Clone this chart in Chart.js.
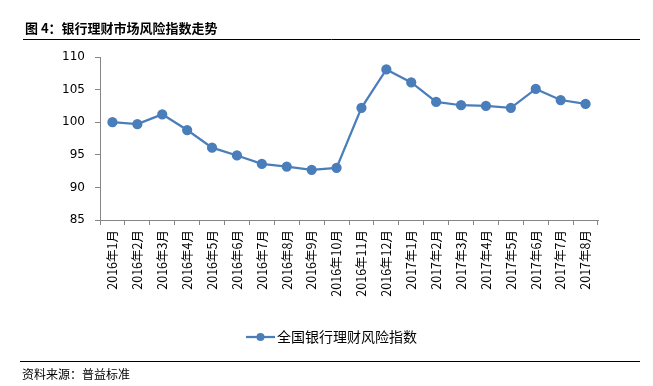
<!DOCTYPE html>
<html>
<head>
<meta charset="utf-8">
<script src="https://cdn.jsdelivr.net/npm/chart.js@4/dist/chart.umd.min.js"></script>
<style>
  html, body { margin: 0; padding: 0; background: #fff; }
  #wrap { width: 653px; height: 386px; position: relative; }
</style>
</head>
<body>
<div id="wrap"><canvas id="chart" width="653" height="386"></canvas></div>
<script>
// data
const months = [
  '2016年1月', '2016年2月', '2016年3月', '2016年4月', '2016年5月', '2016年6月', '2016年7月',
  '2016年8月', '2016年9月', '2016年10月', '2016年11月', '2016年12月', '2017年1月', '2017年2月',
  '2017年3月', '2017年4月', '2017年5月', '2017年6月', '2017年7月', '2017年8月'
];
const riskIndex = [
  100.0, 99.7, 101.2, 98.8, 96.1, 94.9, 93.6, 93.2, 92.7, 93.0,
  102.2, 108.1, 106.1, 103.1, 102.6, 102.5, 102.2, 105.1, 103.4, 102.8
];
const seriesName = '全国银行理财风险指数';
const titleText = '图 4：银行理财市场风险指数走势';
const sourceText = '资料来源：普益标准';

const lineColor = '#4a7ebb';
const axisColor = '#868686';
const cjkFont = '"Noto Sans CJK SC", "DejaVu Sans", sans-serif';

// =========================
// title, rules, legend, source
// =========================
const decorPlugin = {
  id: 'decor',
  afterDraw(chart) {
    const ctx = chart.ctx;
    ctx.save();
    // title
    ctx.fillStyle = '#000';
    ctx.font = 'bold 13px ' + cjkFont;
    ctx.textBaseline = 'middle';
    ctx.textAlign = 'left';
    ctx.fillText(titleText, 25, 28);
    // rules
    ctx.strokeStyle = '#000';
    ctx.lineWidth = 1;
    ctx.beginPath();
    ctx.moveTo(23, 39.5); ctx.lineTo(640, 39.5);
    ctx.moveTo(20, 361.5); ctx.lineTo(640, 361.5);
    ctx.stroke();
    // legend
    ctx.strokeStyle = lineColor;
    ctx.lineWidth = 2.25;
    ctx.beginPath();
    ctx.moveTo(246, 337); ctx.lineTo(275, 337);
    ctx.stroke();
    ctx.fillStyle = lineColor;
    ctx.beginPath();
    ctx.arc(260.5, 337, 4, 0, Math.PI * 2);
    ctx.fill();
    ctx.fillStyle = '#000';
    ctx.font = '14px ' + cjkFont;
    ctx.fillText(seriesName, 277, 337);
    // source
    ctx.font = '12px ' + cjkFont;
    ctx.fillText(sourceText, 22, 374);
    ctx.restore();
  }
};

new Chart(document.getElementById('chart'), {
  type: 'line',
  data: {
    labels: months,
    datasets: [{
      label: seriesName,
      data: riskIndex,
      borderColor: lineColor,
      backgroundColor: lineColor,
      borderWidth: 2.25,
      pointRadius: 4,
      pointHoverRadius: 4,
      pointBackgroundColor: lineColor,
      pointBorderColor: lineColor,
      tension: 0
    }]
  },
  options: {
    responsive: false,
    animation: false,
    layout: { padding: { left: 0, top: 57, right: 55, bottom: 0 } },
    plugins: {
      legend: { display: false },
      tooltip: { enabled: false }
    },
    scales: {
      x: {
        offset: true,
        grid: {
          offset: true,
          drawOnChartArea: false,
          drawTicks: true,
          tickLength: 5,
          color: axisColor
        },
        border: { color: axisColor, width: 1 },
        ticks: {
          minRotation: 90,
          maxRotation: 90,
          autoSkip: false,
          padding: 5,
          color: '#000',
          font: { family: cjkFont, size: 12.5 }
        },
        afterFit(scale) { scale.height = 166; }
      },
      y: {
        min: 85,
        max: 110,
        grid: {
          drawOnChartArea: false,
          drawTicks: true,
          tickLength: 5,
          color: axisColor
        },
        border: { color: axisColor, width: 1 },
        ticks: {
          stepSize: 5,
          padding: 10,
          color: '#000',
          font: { family: '"DejaVu Sans", sans-serif', size: 12 }
        },
        afterFit(scale) { scale.width = 100; }
      }
    }
  },
  plugins: [decorPlugin]
});
</script>
</body>
</html>
